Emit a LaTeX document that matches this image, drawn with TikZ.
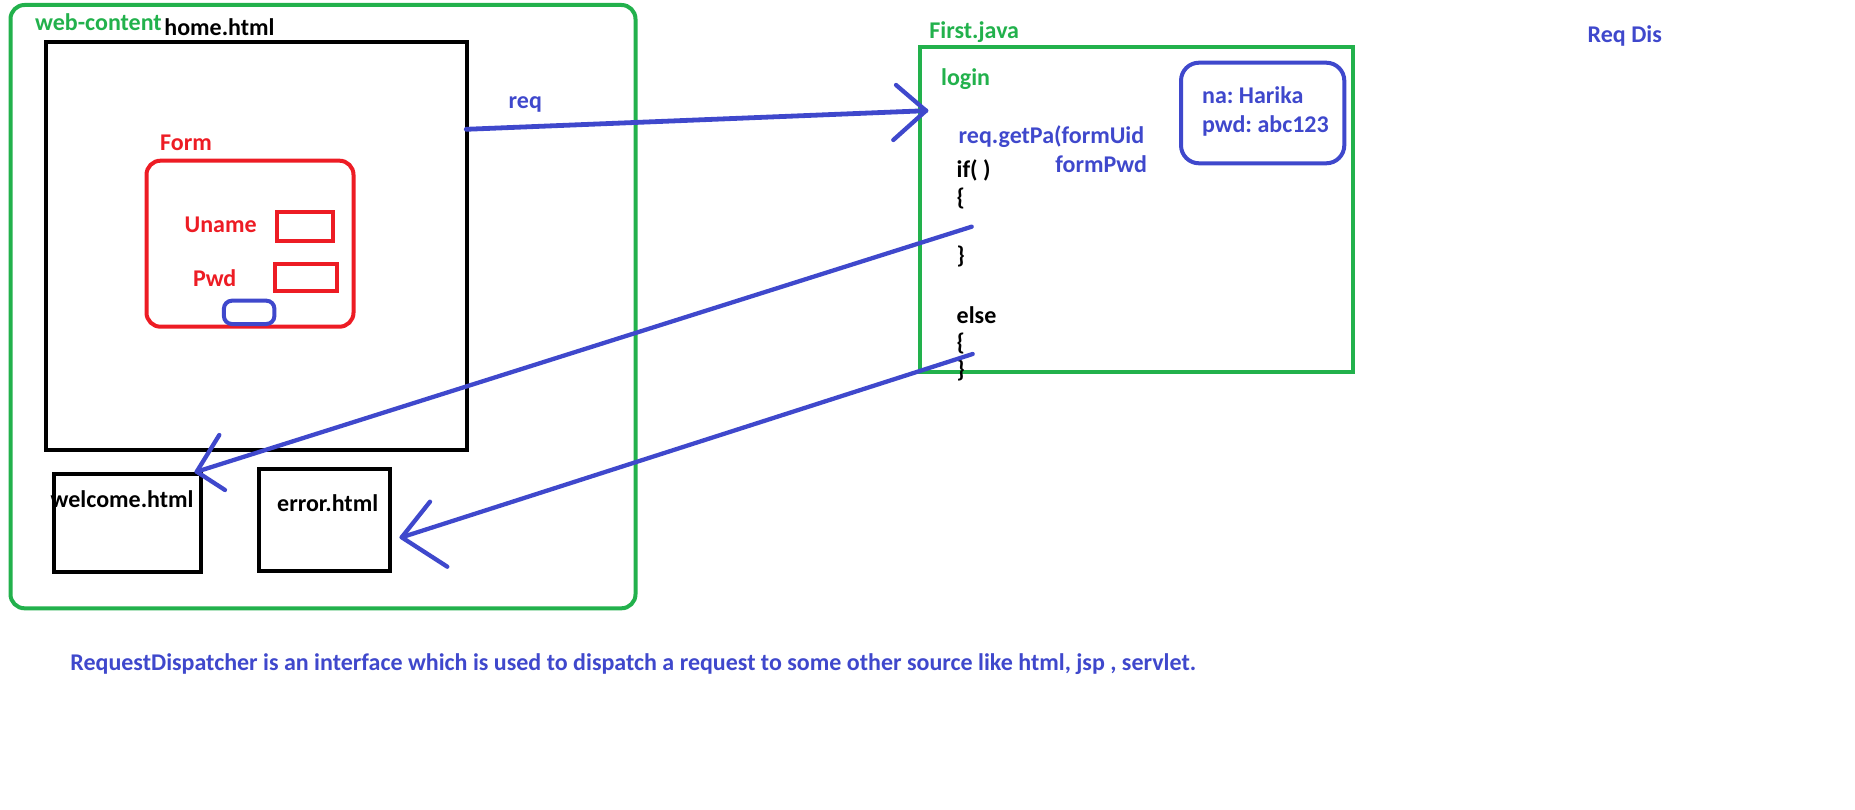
\documentclass[tikz,border=0pt]{standalone}
\usepackage{fontspec}
\setmainfont{Carlito}
\frenchspacing
\definecolor{paintgreen}{RGB}{34,177,76}
\definecolor{paintred}{RGB}{237,28,36}
\definecolor{paintblue}{RGB}{63,72,204}
\begin{document}
\begin{tikzpicture}
[x=1pt,y=-1pt,
pane/.style={draw,line width=4pt,inner sep=0pt,outer sep=0pt,anchor=north west},
word/.style={inner sep=0pt,anchor=base west,font=\bfseries\fontsize{24}{29}\selectfont},
link/.style={paintblue,line width=4.3pt,line cap=round,line join=round}]
\useasboundingbox (0,0) rectangle (1855,810);
% web-content side
\node[pane,paintgreen,rounded corners=14pt,minimum width=625pt,minimum height=603.3pt] (web) at (10.5,5) {};
\node[pane,minimum width=420.2pt,minimum height=407.2pt] (home) at (46.3,42.3) {};
\node[pane,paintred,rounded corners=14pt,minimum width=207pt,minimum height=166pt] (form) at (146.5,160.7) {};
\node[pane,paintred,minimum width=56.3pt,minimum height=28.7pt] (unamefield) at (277,212) {};
\node[pane,paintred,minimum width=62pt,minimum height=27pt] (pwdfield) at (274.8,264) {};
\node[pane,paintblue,rounded corners=8pt,minimum width=50.5pt,minimum height=23.3pt] (submit) at (223.9,300.7) {};
\node[pane,minimum width=147pt,minimum height=97.7pt] (welcome) at (53.9,474) {};
\node[pane,minimum width=130.7pt,minimum height=101.2pt] (error) at (259.3,469.3) {};
% servlet side
\node[pane,paintgreen,minimum width=433.3pt,minimum height=325pt] (first) at (920,46.7) {};
\node[pane,paintblue,rounded corners=18pt,minimum width=163.3pt,minimum height=100.6pt] (params) at (1181,62.7) {};
% labels
\node[word,paintgreen] (weblbl) at (35,31) {web-content};
\node[word] (homelbl) at (164.2,35.5) {home.html};
\node[word,paintblue] (reqlbl) at (508.5,109) {req};
\node[word,paintred] (formlbl) at (160,150.5) {Form};
\node[word,paintred] (unamelbl) at (184.4,232.2) {Uname};
\node[word,paintred] (pwdlbl) at (192.8,286.2) {Pwd};
\node[word] (welcomelbl) at (50.5,507.8) {welcome.html};
\node[word] (errorlbl) at (277,511.2) {error.html};
\node[word,paintgreen] (firstlbl) at (929.2,38.8) {First.java};
\node[word,paintgreen] (loginlbl) at (940.9,85.5) {login};
\node[word,paintblue] (nalbl) at (1201.9,103.2) {na: Harika};
\node[word,paintblue] (pwdvallbl) at (1201.9,132.2) {pwd: abc123};
\node[word,paintblue] (getpalbl) at (958.5,143.2) {req.getPa(formUid};
\node[word,paintblue] (formpwdlbl) at (1055.2,172.2) {formPwd};
\node[word] (iflbl) at (956.5,177.8) {if( )};
\node[word] (ifopen) at (956.5,205.5) {\{};
\node[word] (ifclose) at (956.5,263.8) {\}};
\node[word] (elselbl) at (956.5,323.2) {else};
\node[word] (elseopen) at (956.5,350.5) {\{};
\node[word] (elseclose) at (956.5,377.2) {\}};
\node[word,paintblue] (reqdislbl) at (1587.5,42.2) {Req Dis};
\node[word,paintblue] (notelbl) at (70.2,670.5) {RequestDispatcher is an interface which is used to dispatch a request to some other source like html, jsp , servlet.};
% arrows
\coordinate (reqfrom) at (466.3,129.3);
\coordinate (reqto) at (926,110.7);
\coordinate (reqbarbA) at (896,85);
\coordinate (reqbarbB) at (893.3,140);
\coordinate (okfrom) at (971.7,226.7);
\coordinate (okto) at (196.7,471.7);
\coordinate (okbarbA) at (219.3,435);
\coordinate (okbarbB) at (225,490);
\coordinate (failfrom) at (972.7,354);
\coordinate (failto) at (401.7,537.3);
\coordinate (failbarbA) at (430,501.7);
\coordinate (failbarbB) at (447.3,566.7);
\draw[link,line width=4.8pt] (reqfrom) -- (reqto);
\draw[link] (reqbarbA) -- (reqto) -- (reqbarbB);
\draw[link] (okfrom) -- (okto);
\draw[link] (okbarbA) -- (okto) -- (okbarbB);
\draw[link] (failfrom) -- (failto);
\draw[link] (failbarbA) -- (failto) -- (failbarbB);
\end{tikzpicture}
\end{document}
